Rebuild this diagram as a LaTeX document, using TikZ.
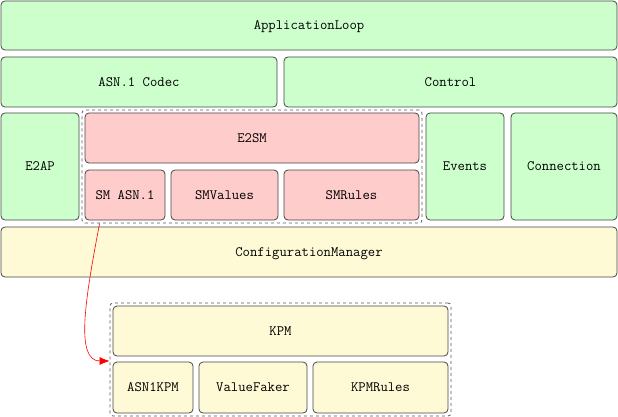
\documentclass[tikz,border=0pt]{standalone}
\usetikzlibrary{fit,arrows.meta}
\definecolor{boxgreen}{RGB}{204,255,204}
\definecolor{boxred}{RGB}{255,204,204}
\definecolor{boxyellow}{RGB}{255,250,214}
\definecolor{edge}{RGB}{70,70,70}
\begin{document}
\begin{tikzpicture}[x=1pt,y=-1pt,
  box/.style={draw=edge, line width=0.8pt, rounded corners=4pt, inner sep=0pt, outer sep=0pt,
    font=\fontsize{14.3}{16}\selectfont\ttfamily, text=black, text depth=0pt},
  gbox/.style={box, fill=boxgreen},
  rbox/.style={box, fill=boxred},
  ybox/.style={box, fill=boxyellow},
  grp/.style={draw=black!65, dashed, line width=0.8pt, rounded corners=3pt, inner sep=3pt},
  link/.style={draw=red, line width=0.6pt, -{Latex[length=10pt,width=8pt]}}]
\useasboundingbox (0,0) rectangle (618,417);
\node[gbox, minimum width=616pt, minimum height=49pt] (app) at (309,25.5) {ApplicationLoop};
\node[gbox, minimum width=276pt, minimum height=50pt] (codec) at (139,82) {ASN.1 Codec};
\node[gbox, minimum width=333pt, minimum height=50pt] (control) at (450.5,82) {Control};
\node[gbox, minimum width=78pt, minimum height=107pt] (e2ap) at (40,166.5) {E2AP};
\node[rbox, minimum width=334pt, minimum height=50pt] (e2sm) at (252,138) {E2SM};
\node[rbox, minimum width=80pt, minimum height=50pt] (smasn) at (125,195) {SM ASN.1};
\node[rbox, minimum width=107pt, minimum height=50pt] (smvalues) at (224.5,195) {SMValues};
\node[rbox, minimum width=135pt, minimum height=50pt] (smrules) at (351.5,195) {SMRules};
\node[gbox, minimum width=78pt, minimum height=107pt] (events) at (465,166.5) {Events};
\node[gbox, minimum width=106pt, minimum height=107pt] (connection) at (564,166.5) {Connection};
\node[ybox, minimum width=616pt, minimum height=50pt] (config) at (309,252) {ConfigurationManager};
\node[ybox, minimum width=335pt, minimum height=50pt] (kpm) at (280.5,331) {KPM};
\node[ybox, minimum width=80pt, minimum height=51pt] (asnkpm) at (153,387.5) {ASN1KPM};
\node[ybox, minimum width=108pt, minimum height=51pt] (faker) at (253,387.5) {ValueFaker};
\node[ybox, minimum width=135pt, minimum height=51pt] (kpmrules) at (380.5,387.5) {KPMRules};
\node[grp, fit=(e2sm)(smasn)(smrules)] (e2smgrp) {};
\node[grp, fit=(kpm)(asnkpm)(kpmrules)] (kpmgrp) {};
\coordinate (src) at ([xshift=18pt]e2smgrp.south west);
\coordinate (dst) at (kpmgrp.west |- 0,361);
\draw[link] (src) .. controls (85,300) and (75,361) .. (dst);
\end{tikzpicture}
\end{document}
